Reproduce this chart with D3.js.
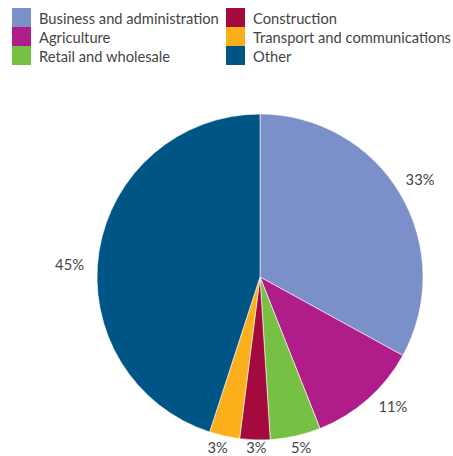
<!DOCTYPE html>
<html>
<head>
<meta charset="utf-8">
<script src="https://cdn.jsdelivr.net/npm/d3@7"></script>
<style>
  html, body { margin: 0; padding: 0; background: #fff; }
  svg { display: block; }
  text { font-family: Lato, "Open Sans", sans-serif; fill: #444; }
</style>
</head>
<body>
<svg id="chart" width="453" height="456"></svg>
<script>
// Employment share by sector (%)
const categories = ["Business and administration", "Agriculture", "Retail and wholesale",
                    "Construction", "Transport and communications", "Other"];
const values = [33, 11, 5, 3, 3, 45];
const colors = ["#7b8fc8", "#b01c8a", "#76c043", "#a50a3e", "#fbb01b", "#005587"];
// Legend is laid out in two columns
const legendColumns = [
  ["Business and administration", "Agriculture", "Retail and wholesale"],
  ["Construction", "Transport and communications", "Other"]
];

const svg = d3.select("#chart");
const cx = 260, cy = 277, radius = 163;

const color = d3.scaleOrdinal().domain(categories).range(colors);

const data = categories.map((c, i) => ({ name: c, value: values[i] }));
const pie = d3.pie().value(d => d.value).sort(null);
const arcs = pie(data);
const arc = d3.arc().innerRadius(0).outerRadius(radius);

const g = svg.append("g").attr("transform", `translate(${cx},${cy})`);
g.selectAll("path.slice")
  .data(arcs)
  .join("path")
  .attr("class", "slice")
  .attr("d", arc)
  .attr("fill", d => color(d.data.name))
  .attr("stroke", "#fff")
  .attr("stroke-width", 0.6);

// Percentage labels sit just outside the rim; small angular nudges (degrees) keep them clear
const labelNudge = {
  "Business and administration": -1, "Agriculture": -4.5, "Retail and wholesale": -1,
  "Construction": -0.6, "Transport and communications": 1.4, "Other": -5
};
g.selectAll("text.pct")
  .data(arcs)
  .join("text")
  .attr("class", "pct")
  .attr("text-anchor", "middle")
  .attr("dominant-baseline", "central")
  .style("font-size", "14.7px")
  .attr("transform", d => {
    const mid = (d.startAngle + d.endAngle) / 2 + ((labelNudge[d.data.name] || 0) * Math.PI / 180);
    const r = radius + 7 + 21 * Math.abs(Math.sin(mid));
    return `translate(${r * Math.sin(mid)},${-r * Math.cos(mid)})`;
  })
  .text(d => d.data.value + "%");

// Legend
const colX = [12, 226], rowY = 8, sw = 19;
legendColumns.forEach((col, ci) => {
  const lg = svg.append("g").attr("transform", `translate(${colX[ci]},${rowY})`);
  const item = lg.selectAll("g").data(col).join("g")
    .attr("transform", (d, i) => `translate(0,${i * sw})`);
  item.append("rect")
    .attr("width", sw).attr("height", sw)
    .attr("fill", d => color(d));
  item.append("text")
    .attr("x", 27).attr("y", 15.5)
    .style("font-size", "14.7px")
    .text(d => d);
});
</script>
</body>
</html>
